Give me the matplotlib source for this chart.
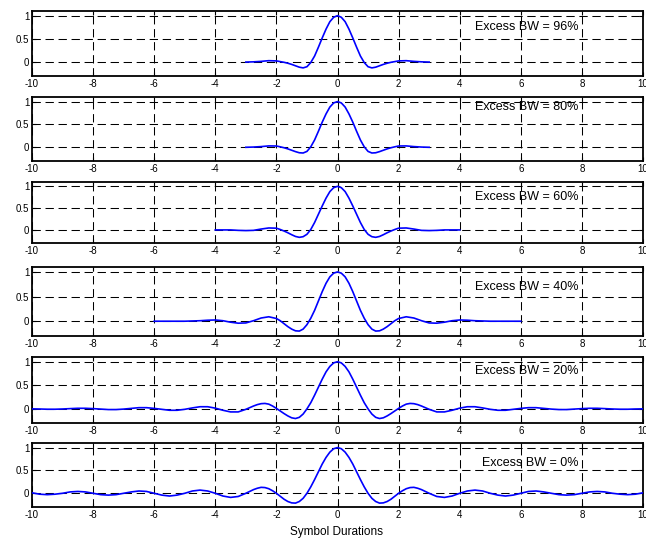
import numpy as np
import matplotlib
matplotlib.use('Agg')
import matplotlib.pyplot as plt

plt.rcParams['font.family'] = ['Liberation Sans', 'DejaVu Sans']

# labels of the six panels (top to bottom)
labels = ['Excess BW = 96%', 'Excess BW = 80%', 'Excess BW = 60%',
          'Excess BW = 40%', 'Excess BW = 20%', 'Excess BW = 0%']

# pulse values (right half, the pulses are symmetric)
# sampled every 0.125 up to fine_end, then every 0.25
p96 = [1.00, 0.965, 0.87, 0.71, 0.52, 0.32, 0.13, -0.01, -0.10, -0.125, -0.11, -0.08,
       -0.05, -0.025, -0.005, 0.01, 0.025,
       0.03, 0.015, 0.005, 0.0]
p80 = [1.00, 0.97, 0.88, 0.73, 0.55, 0.35, 0.16, 0.01, -0.09, -0.125, -0.12, -0.095,
       -0.065, -0.035, -0.01, 0.01, 0.028,
       0.03, 0.015, 0.005, 0.0]
p60 = [1.00, 0.97, 0.88, 0.73, 0.55, 0.36, 0.17, 0.01, -0.10, -0.155, -0.17, -0.15,
       -0.11, -0.065, -0.025, 0.01, 0.04,
       0.045, 0.02, -0.01, -0.015, -0.01, 0.0, 0.0, 0.0]
p40 = [1.00, 0.975, 0.90, 0.77, 0.60, 0.41, 0.22, 0.06, -0.07, -0.16, -0.20, -0.195,
       -0.16, -0.11, -0.05, 0.01, 0.055,
       0.09, 0.065, 0.01, -0.035, -0.04, -0.02, 0.01, 0.025, 0.02, 0.01, 0.005,
       0.0, 0.0, 0.0, 0.0, 0.0]
p20 = [1.00, 0.975, 0.90, 0.785, 0.63, 0.46, 0.29, 0.13, 0.0, -0.11, -0.18, -0.205,
       -0.19, -0.15, -0.10, -0.045, 0.01, 0.06, 0.10, 0.115, 0.11, 0.09, 0.06, 0.025, -0.01,
       -0.065, -0.065, -0.03, 0.015, 0.045, 0.045, 0.02, -0.01, -0.03, -0.03, -0.01,
       0.01, 0.025, 0.025, 0.01, -0.005, -0.015, -0.015, -0.005, 0.005, 0.012, 0.012, 0.005,
       -0.003, -0.008, -0.008, -0.003, 0.0]
p0 = [1.00, 0.975, 0.90, 0.785, 0.64, 0.47, 0.30, 0.14, 0.0, -0.11, -0.18, -0.215,
      -0.21, -0.18, -0.13, -0.065, 0.0, 0.055, 0.10, 0.125, 0.13, 0.11, 0.08, 0.04, 0.0,
      -0.07, -0.09, -0.06, 0.0, 0.05, 0.07, 0.05, 0.0, -0.04, -0.06, -0.04,
      0.0, 0.04, 0.05, 0.03, 0.0, -0.03, -0.04, -0.03, 0.0, 0.03, 0.04, 0.03,
      0.0, -0.02, -0.03, -0.02, 0.01]
pulses = [p96, p80, p60, p40, p20, p0]
fine_end = [2.0, 2.0, 2.0, 2.0, 3.0, 3.0]

xticks = [-10, -8, -6, -4, -2, 0, 2, 4, 6, 8, 10]
yticks = [0, 0.5, 1]
text_y = [0.76, 0.88, 0.76, 0.70, 0.81, 0.67]

# axes boxes in pixels (top, bottom) of a 646x542 figure
boxes = [(11, 76), (97, 161), (182, 243), (267, 336), (357, 423), (443, 507)]

fig = plt.figure(figsize=(6.46, 5.42), dpi=100)
W, H = 646.0, 542.0
left, right = 32, 643

for i, (top, bot) in enumerate(boxes):
    ax = fig.add_axes([left / W, 1 - bot / H, (right - left) / W, (bot - top) / H])
    half = np.array(pulses[i])
    fine = np.arange(0, fine_end[i] + 0.01, 0.125)
    coarse = fine_end[i] + 0.25 * np.arange(1, len(half) - len(fine) + 1)
    t = np.concatenate([fine, coarse])
    x = np.concatenate([-t[::-1], t[1:]])
    y = np.concatenate([half[::-1], half[1:]])
    ax.plot(x, y, color='#0000ff', lw=1.2, zorder=3)
    ax.set_xlim(-10, 10)
    ax.set_ylim(-0.3, 1.1)
    ax.set_xticks(xticks)
    ax.set_yticks(yticks)
    ax.set_xticklabels([str(v) for v in xticks])
    ax.set_yticklabels(['0', '0.5', '1'])
    ax.grid(True, color='black', lw=0.75, linestyle=(0, (8, 4.5)))
    ax.tick_params(direction='in', length=3, width=0.8, labelsize=7, pad=2,
                   top=True, right=True)
    for s in ax.spines.values():
        s.set_linewidth(1.3)
    ax.text(7.9, text_y[i], labels[i], ha='right', va='center', fontsize=9, zorder=2)

fig.text(337 / W, 1 - 532 / H, 'Symbol Durations', ha='center', va='center', fontsize=8.5)

plt.savefig('out.png', dpi=100)
